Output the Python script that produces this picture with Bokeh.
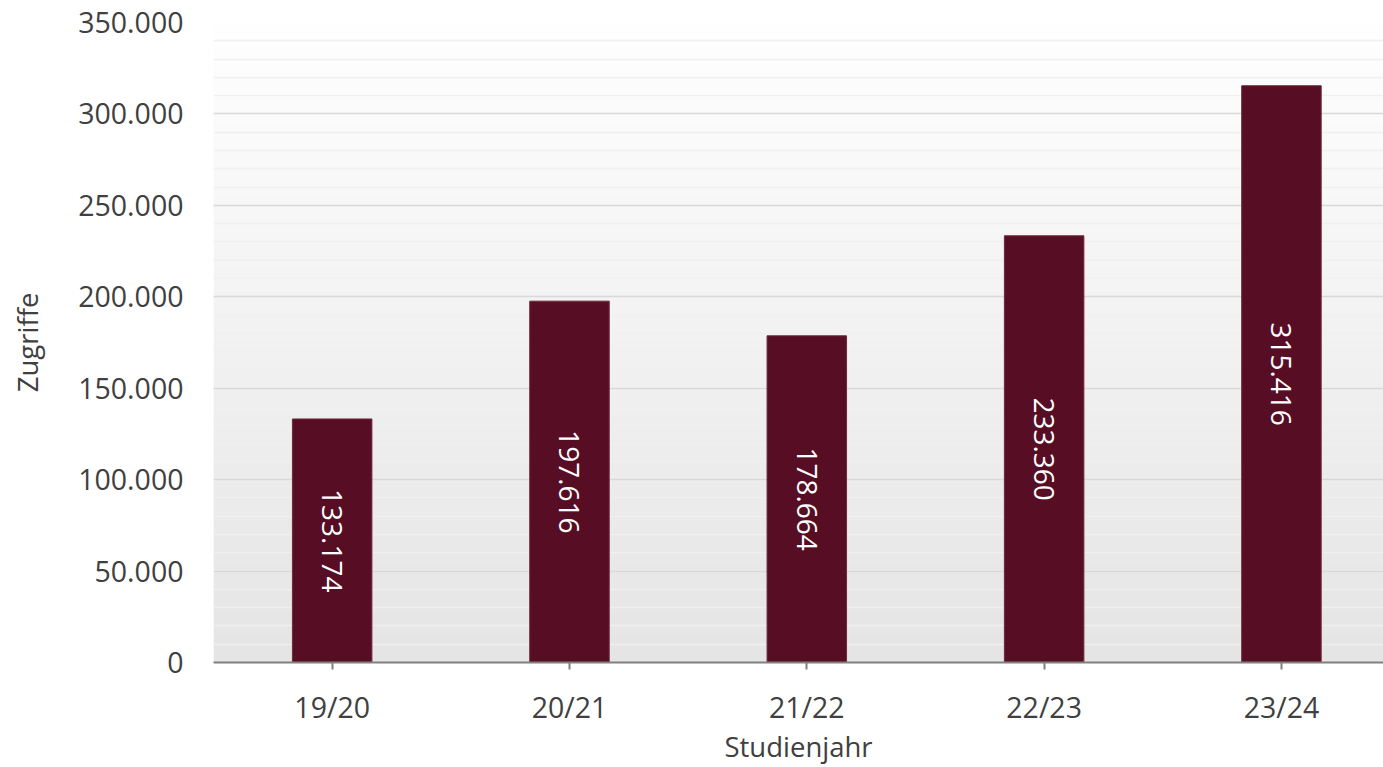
import numpy as np
from bokeh.plotting import figure
from bokeh.models import FixedTicker, Range1d, ColumnDataSource
from bokeh.core.properties import value
from bokeh.embed import file_html
from bokeh.resources import INLINE

categories = ["19/20", "20/21", "21/22", "22/23", "23/24"]
zugriffe = [133174, 197616, 178664, 233360, 315416]
y_ticks = [0, 50000, 100000, 150000, 200000, 250000, 300000, 350000]
y_minor = list(range(0, 350001, 10000))

FONT = "Open Sans"
TXT = "#404040"
BAR = "#570e24"

def fmt(v):
    return f"{v:,}".replace(",", ".")

x = list(range(len(categories)))
src = ColumnDataSource(dict(x=x, top=zugriffe, mid=[v / 2 for v in zugriffe],
                            label=[fmt(v) for v in zugriffe]))

x_end = 4.43
p = figure(width=1383, height=767, output_backend="svg", toolbar_location=None,
           x_range=Range1d(-0.5, x_end), y_range=Range1d(0, 350000),
           min_border_left=213, min_border_right=0, min_border_top=22, min_border_bottom=105)
p.outline_line_color = None
p.background_fill_color = "white"
p.border_fill_color = "white"

# vertical gradient background in plot area
n = 256
t = np.linspace(0, 1, n)  # 0 bottom -> 1 top
g = (229 + (255 - 229) * t).astype(np.uint32)
img = np.zeros((n, 1), dtype=np.uint32)
view = img.view(dtype=np.uint8).reshape((n, 1, 4))
view[:, 0, 0] = g
view[:, 0, 1] = g
view[:, 0, 2] = g
view[:, 0, 3] = 255
r_img = p.image_rgba(image=[img], x=-0.5, y=0, dw=x_end + 0.5, dh=350000)
r_img.level = "image"

p.vbar(x="x", top="top", width=0.335, source=src, fill_color=BAR, line_color="#6e2a3d", line_width=1)
p.text(x="x", y="mid", text="label", source=src, angle=-np.pi / 2,
       text_align="center", text_baseline="middle", text_color="white",
       text_font=value(FONT), text_font_size="28px")

# y axis
p.yaxis.ticker = FixedTicker(ticks=y_ticks, minor_ticks=y_minor)
p.yaxis.major_label_overrides = {v: fmt(v) for v in y_ticks}
p.yaxis.axis_line_color = None
p.yaxis.major_tick_line_color = None
p.yaxis.minor_tick_line_color = None
p.yaxis.major_label_standoff = 24
p.yaxis.major_label_text_font = FONT
p.yaxis.major_label_text_font_size = "28.5px"
p.yaxis.major_label_text_color = TXT
p.yaxis.axis_label = "Zugriffe"
p.yaxis.axis_label_text_font = FONT
p.yaxis.axis_label_text_font_size = "27.5px"
p.yaxis.axis_label_text_font_style = "normal"
p.yaxis.axis_label_text_color = TXT
p.yaxis.axis_label_standoff = 29

p.ygrid.grid_line_color = "#d9d9d9"
p.ygrid.grid_line_width = 1.5
p.ygrid.minor_grid_line_color = "#f0f0f0"
p.ygrid.minor_grid_line_width = 1.5
p.xgrid.grid_line_color = None

# x axis
p.xaxis.ticker = FixedTicker(ticks=x)
p.xaxis.major_label_overrides = {i: c for i, c in zip(x, categories)}
p.xaxis.axis_line_color = "#808080"
p.xaxis.axis_line_width = 2
p.xaxis.major_tick_line_color = "#808080"
p.xaxis.major_tick_line_width = 2
p.xaxis.major_tick_out = 7
p.xaxis.major_tick_in = 0
p.xaxis.minor_tick_line_color = None
p.xaxis.major_label_standoff = 18
p.xaxis.major_label_text_font = FONT
p.xaxis.major_label_text_font_size = "28.5px"
p.xaxis.major_label_text_color = TXT
p.xaxis.axis_label = "Studienjahr"
p.xaxis.axis_label_text_font = FONT
p.xaxis.axis_label_text_font_size = "27.5px"
p.xaxis.axis_label_text_font_style = "normal"
p.xaxis.axis_label_text_color = TXT
p.xaxis.axis_label_standoff = -1

open("out.html", "w").write(file_html(p, INLINE))
